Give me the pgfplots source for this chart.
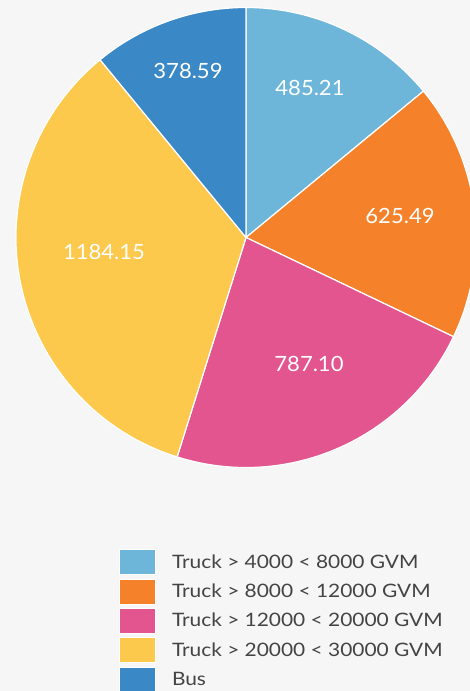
\documentclass[border=0pt]{standalone}
\usepackage{pgfplots}
\pgfplotsset{compat=1.18}
\usepackage{pgfplotstable}
\usepackage{fontspec}
\setmainfont{Lato}
\newfontfamily\legfont[FakeStretch=1.13]{Lato}
\newfontfamily\labfont[FakeStretch=1.05]{Lato}
\definecolor{bg}{HTML}{F6F6F6}
\definecolor{c1}{HTML}{6EB6D9}
\definecolor{c2}{HTML}{F5822A}
\definecolor{c3}{HTML}{E3558F}
\definecolor{c4}{HTML}{FDC94D}
\definecolor{c5}{HTML}{3A89C6}
\definecolor{legtext}{HTML}{444444}

\pgfplotsset{pieleg/.style={legend image code/.code={\filldraw[##1] (0pt,-12.5pt) rectangle (36pt,12.5pt);}}}

% label positions lx, ly are in pixels from the top-left corner
\pgfplotstableread[col sep=comma]{
label,value,color,lx,ly
Truck > 4000 < 8000 GVM,485.21,c1,310,88
Truck > 8000 < 12000 GVM,625.49,c2,400,216
Truck > 12000 < 20000 GVM,787.10,c3,309,364
Truck > 20000 < 30000 GVM,1184.15,c4,104,252
Bus,378.59,c5,188,71
}\piedata

\begin{document}
\begin{tikzpicture}
\fill[bg] (0,0) rectangle (470pt,691pt);
\useasboundingbox (0,0) rectangle (470pt,691pt);
\xdef\total{0}
\pgfplotstableforeachcolumnelement{value}\of\piedata\as\vv{%
  \pgfmathparse{\total+\vv}\xdef\total{\pgfmathresult}}
\begin{axis}[
  at={(0pt,0pt)}, anchor=south west,
  width=470pt, height=691pt, scale only axis,
  xmin=0, xmax=470, ymin=0, ymax=691,
  hide axis, clip=true,
  legend style={at={(axis cs:119,142)}, anchor=north west, draw=none, fill=none,
    inner sep=0pt, row sep=3.6pt,
    nodes={inner sep=0pt, anchor=west, text=legtext, font=\legfont\fontsize{18.5}{20}\selectfont},
    /tikz/every odd column/.append style={column sep=16pt}},
  legend cell align=left,
]
\def\cum{0}
\pgfplotsforeachungrouped \i in {0,...,4}{%
  \pgfplotstablegetelem{\i}{value}\of\piedata \let\v\pgfplotsretval
  \pgfplotstablegetelem{\i}{color}\of\piedata \let\c\pgfplotsretval
  \pgfplotstablegetelem{\i}{label}\of\piedata \let\lab\pgfplotsretval
  \pgfplotstablegetelem{\i}{lx}\of\piedata \let\lx\pgfplotsretval
  \pgfplotstablegetelem{\i}{ly}\of\piedata \let\ly\pgfplotsretval
  \pgfmathsetmacro\a{90-360*(\cum/\total)}
  \pgfmathsetmacro\cum{\cum+\v}
  \pgfmathsetmacro\b{90-360*(\cum/\total)}
  \pgfmathsetmacro\lyy{691-\ly}
  \edef\cmd{%
    \noexpand\filldraw[fill=\c, draw=white, line width=1.2pt, line join=round]
      (axis cs:246,453.5) -- ++(\a:230pt) arc[start angle=\a, end angle=\b, radius=230pt] -- cycle;
    \noexpand\node[text=white, font=\noexpand\labfont\noexpand\fontsize{21}{24}\noexpand\selectfont] at (axis cs:\lx,\lyy) {\v};
    \noexpand\addlegendimage{fill=\c, draw=white, line width=0.8pt, pieleg}
    \noexpand\addlegendentry{\lab}
  }%
  \cmd
}
\end{axis}
\end{tikzpicture}
\end{document}
